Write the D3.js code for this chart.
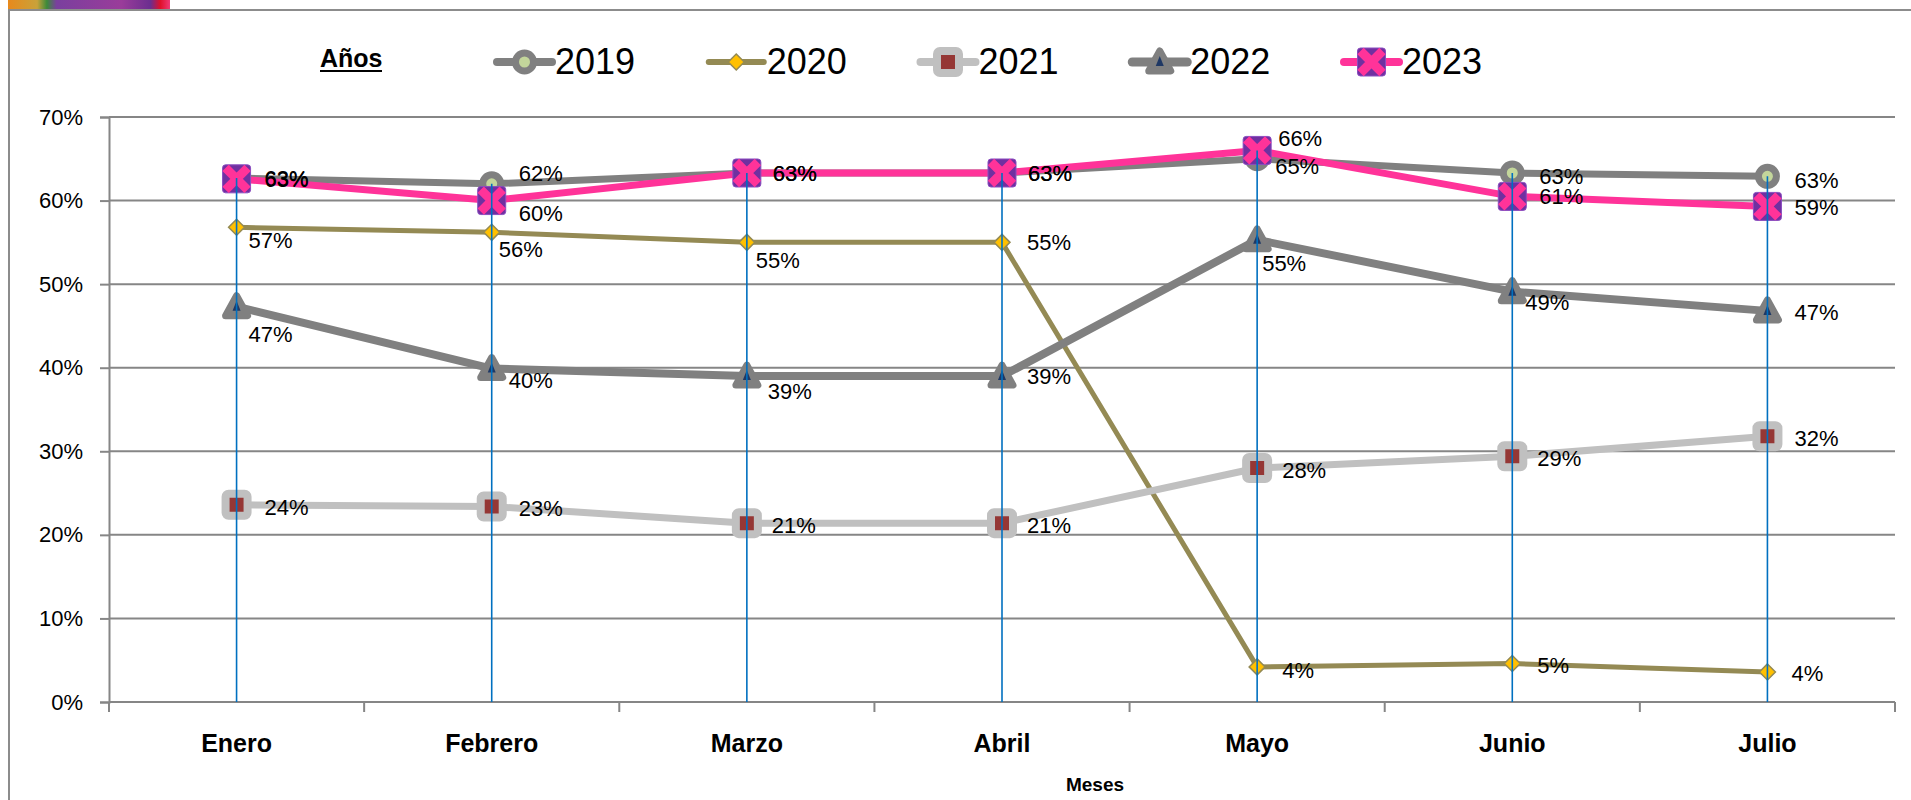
<!DOCTYPE html>
<html lang="es">
<head>
<meta charset="utf-8">
<title>Años / Meses</title>
<script src="https://d3js.org/d3.v7.min.js"></script>
<style>
  body { margin: 0; background: #fff; }
  svg { display: block; }
  .lbl { font-family: "Liberation Sans", Arial, sans-serif; font-size: 22px; fill: #000; }
  .y.axis text { font-family: "Liberation Sans", Arial, sans-serif; font-size: 22px; fill: #000; }
  .x.axis text { font-family: "Liberation Sans", Arial, sans-serif; font-size: 25px; font-weight: bold; fill: #000; }
</style>
</head>
<body>
<div id="chart"></div>
<script>
// data
const months = ["Enero", "Febrero", "Marzo", "Abril", "Mayo", "Junio", "Julio"];
const years = ["2019", "2020", "2021", "2022", "2023"];
const v2019 = [62.7, 62.0, 63.3, 63.3, 65.0, 63.3, 62.9];
const v2020 = [56.8, 56.2, 55.0, 55.0, 4.2, 4.6, 3.6];
const v2021 = [23.6, 23.4, 21.4, 21.4, 28.0, 29.4, 31.8];
const v2022 = [47.3, 39.9, 39.0, 39.0, 55.3, 49.1, 46.8];
const v2023 = [62.6, 60.0, 63.3, 63.3, 66.0, 60.5, 59.3];
const yTicks = [0, 10, 20, 30, 40, 50, 60, 70];

// label placement (dx, dy from point) per series
const labelOffsets = {
  "2019": [[28, 0], [27, -11], [26, 0], [26, 0], [18, 7], [27, 3], [27, 4]],
  "2020": [[12, 13], [7, 17], [9, 18], [25, 0], [25, 3], [25, 2], [24, 1]],
  "2021": [[28, 2], [27, 2], [25, 2], [25, 2], [25, 2], [25, 2], [27, 2]],
  "2022": [[12, 27], [17, 12], [21, 15], [25, 0], [5, 23], [13, 10], [27, 1]],
  "2023": [[28, 0], [27, 13], [26, 0], [26, 0], [21, -12], [27, 0], [27, 1]]
};

const series = [
  { name: "2019", values: v2019, color: "#808080", width: 7, marker: "circle" },
  { name: "2020", values: v2020, color: "#948A54", width: 5, marker: "diamond" },
  { name: "2021", values: v2021, color: "#C0C0C0", width: 7, marker: "square" },
  { name: "2022", values: v2022, color: "#808080", width: 8, marker: "triangle" },
  { name: "2023", values: v2023, color: "#FF3399", width: 7, marker: "xbox" }
];

const W = 1911, H = 800;
const svg = d3.select("#chart").append("svg")
  .attr("width", W).attr("height", H);

// decoration strip at the top left + frame
const grad = svg.append("defs").append("linearGradient").attr("id", "strip");
[["0%", "#e8891c"], ["18%", "#c9a23a"], ["24%", "#3c8a3a"], ["30%", "#7a3f9e"],
 ["70%", "#9a3c9a"], ["88%", "#6b2e8f"], ["94%", "#e0102a"], ["100%", "#f03a78"]]
  .forEach(s => grad.append("stop").attr("offset", s[0]).attr("stop-color", s[1]));
svg.append("rect").attr("x", 8).attr("y", 0).attr("width", 162).attr("height", 9)
  .attr("fill", "url(#strip)");
svg.append("line").attr("x1", 9).attr("x2", W).attr("y1", 10).attr("y2", 10)
  .attr("stroke", "#8c8c8c").attr("stroke-width", 2);
svg.append("line").attr("x1", 9).attr("x2", 9).attr("y1", 9).attr("y2", H)
  .attr("stroke", "#8c8c8c").attr("stroke-width", 2);

const x = d3.scaleBand().domain(months).range([109, 1895]);
const xc = m => x(m) + x.bandwidth() / 2;
const y = d3.scaleLinear().domain([0, 70]).range([702, 117]);

// gridlines
svg.append("g").selectAll("line").data(yTicks).enter().append("line")
  .attr("x1", 109).attr("x2", 1895)
  .attr("y1", d => y(d)).attr("y2", d => y(d))
  .attr("stroke", "#868686").attr("stroke-width", 2);

// y axis
const yAxis = svg.append("g").attr("class", "y axis")
  .attr("transform", "translate(109,0)")
  .call(d3.axisLeft(y).tickValues(yTicks).tickSize(9).tickPadding(17).tickFormat(d => d + "%"));
yAxis.selectAll("line").attr("stroke", "#868686").attr("stroke-width", 2);
yAxis.select(".domain").attr("stroke", "#868686").attr("stroke-width", 2);

// x axis
const xAxis = svg.append("g").attr("class", "x axis")
  .attr("transform", "translate(0,702)")
  .call(d3.axisBottom(x).tickSize(0).tickPadding(32));
xAxis.select(".domain").remove();
svg.append("g").selectAll("line").data(months.map(m => x(m)).concat([x.range()[1]]))
  .enter().append("line")
  .attr("x1", d => d).attr("x2", d => d).attr("y1", 702).attr("y2", 712)
  .attr("stroke", "#868686").attr("stroke-width", 2);
svg.append("line").attr("x1", 109).attr("x2", 1895).attr("y1", 702).attr("y2", 702)
  .attr("stroke", "#868686").attr("stroke-width", 2);

svg.append("text").attr("x", 1095).attr("y", 791).attr("text-anchor", "middle")
  .style("font-family", "Liberation Sans, Arial, sans-serif")
  .style("font-size", "19px").style("font-weight", "bold").text("Meses");

// markers
function drawMarker(g, type) {
  if (type === "circle") {
    g.append("circle").attr("r", 9).attr("fill", "#C3D69B")
      .attr("stroke", "#808080").attr("stroke-width", 7);
  } else if (type === "diamond") {
    g.append("path").attr("d", "M0,-8L8,0L0,8L-8,0Z")
      .attr("fill", "#FFC000").attr("stroke", "#948A54").attr("stroke-width", 1.5);
  } else if (type === "square") {
    g.append("rect").attr("x", -11).attr("y", -11).attr("width", 22).attr("height", 22)
      .attr("rx", 3).attr("fill", "#953735")
      .attr("stroke", "#C0C0C0").attr("stroke-width", 8).attr("stroke-linejoin", "round");
  } else if (type === "triangle") {
    g.append("path").attr("d", "M0,-11L11,9L-11,9Z")
      .attr("fill", "#808080").attr("stroke", "#808080")
      .attr("stroke-width", 7).attr("stroke-linejoin", "round");
    g.append("path").attr("d", "M0,-6L4,4L-4,4Z").attr("fill", "#1F3864");
  } else if (type === "xbox") {
    g.append("rect").attr("x", -14).attr("y", -14).attr("width", 28).attr("height", 28)
      .attr("rx", 3).attr("fill", "#7030A0").attr("stroke", "#8a4cc0").attr("stroke-width", 1);
    g.append("path").attr("d", "M-11,-11L11,11M-11,11L11,-11")
      .attr("stroke", "#FF3399").attr("stroke-width", 9);
  }
}

const line = d3.line().x(d => xc(d.m)).y(d => y(d.v));

series.forEach(s => {
  const pts = s.values.map((v, i) => ({ m: months[i], v: v }));
  svg.append("path").datum(pts).attr("d", line)
    .attr("fill", "none").attr("stroke", s.color).attr("stroke-width", s.width)
    .attr("stroke-linejoin", "round");
  svg.append("g").selectAll("g").data(pts).enter().append("g")
    .attr("transform", d => `translate(${xc(d.m)},${y(d.v)})`)
    .each(function () { drawMarker(d3.select(this), s.marker); });
});

// drop lines
const tops = months.map((m, i) => ({ m: m, v: d3.max(series, s => s.values[i]) }));
svg.append("g").selectAll("line").data(tops).enter().append("line")
  .attr("x1", d => xc(d.m)).attr("x2", d => xc(d.m))
  .attr("y1", d => y(d.v)).attr("y2", y(0))
  .attr("stroke", "#0070C0").attr("stroke-width", 1.6);

// data labels
series.forEach(s => {
  svg.append("g").selectAll("text").data(s.values).enter().append("text")
    .attr("class", "lbl")
    .attr("x", (v, i) => xc(months[i]) + labelOffsets[s.name][i][0])
    .attr("y", (v, i) => y(v) + labelOffsets[s.name][i][1])
    .attr("dy", "0.36em")
    .text(v => Math.round(v) + "%");
});

// legend
const legend = svg.append("g");
legend.append("text").attr("x", 320).attr("y", 67)
  .style("font-family", "Liberation Sans, Arial, sans-serif")
  .style("font-size", "25px").style("font-weight", "bold").text("Años");
legend.append("line").attr("x1", 320).attr("x2", 382).attr("y1", 71).attr("y2", 71)
  .attr("stroke", "#000").attr("stroke-width", 2);

const lx = d3.scalePoint().domain(years).range([497, 1344]);
series.forEach(s => {
  const g = legend.append("g").attr("transform", `translate(${lx(s.name)},62)`);
  g.append("line").attr("x1", 0).attr("x2", 55)
    .attr("stroke", s.color).attr("stroke-width", s.width + 1).attr("stroke-linecap", "round");
  drawMarker(g.append("g").attr("transform", "translate(27.5,0)"), s.marker);
  g.append("text").attr("x", 58).attr("y", 12)
    .style("font-family", "Liberation Sans, Arial, sans-serif")
    .style("font-size", "36px").text(s.name);
});
</script>
</body>
</html>
